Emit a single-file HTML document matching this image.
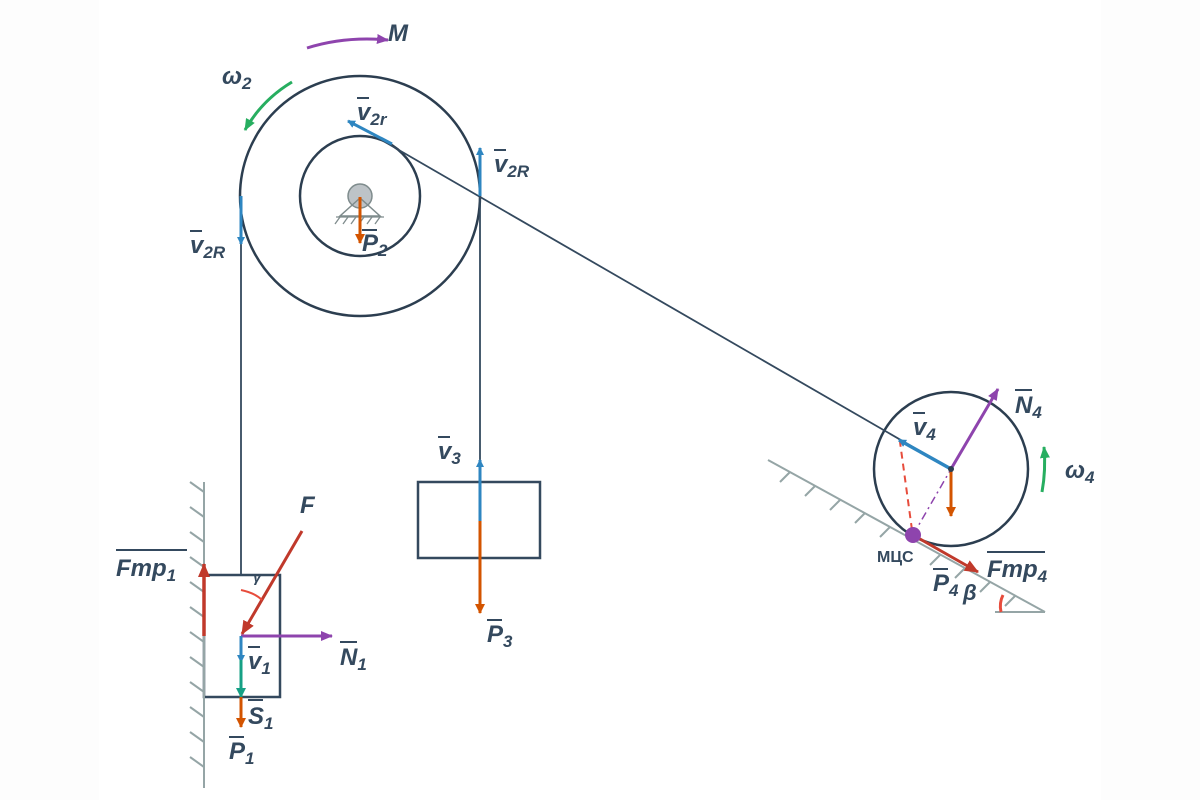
<!DOCTYPE html>
<html><head><meta charset="utf-8"><style>
html,body{margin:0;padding:0;background:#fff;}
svg{display:block}
text{font-family:"Liberation Sans",sans-serif;font-weight:bold;font-style:italic;fill:#34495e;}
</style></head><body>
<svg width="1200" height="800" viewBox="0 0 1200 800">
<defs>
<marker id="ab" markerWidth="8" markerHeight="8" refX="7" refY="4" orient="auto" markerUnits="userSpaceOnUse"><path d="M0,0 L8,4 L0,8 z" fill="#2e86c1"/></marker>
<marker id="ao" markerWidth="10" markerHeight="10" refX="9" refY="5" orient="auto" markerUnits="userSpaceOnUse"><path d="M0,0 L10,5 L0,10 z" fill="#d35400"/></marker>
<marker id="ar" markerWidth="14" markerHeight="12" refX="13" refY="6" orient="auto" markerUnits="userSpaceOnUse"><path d="M0,0 L14,6 L0,12 z" fill="#c0392b"/></marker>
<marker id="ap" markerWidth="12" markerHeight="10" refX="11" refY="5" orient="auto" markerUnits="userSpaceOnUse"><path d="M0,0 L12,5 L0,10 z" fill="#8e44ad"/></marker>
<marker id="ag" markerWidth="12" markerHeight="10" refX="11" refY="5" orient="auto" markerUnits="userSpaceOnUse"><path d="M0,0 L12,5 L0,10 z" fill="#27ae60"/></marker>
<marker id="at" markerWidth="10" markerHeight="10" refX="9" refY="5" orient="auto" markerUnits="userSpaceOnUse"><path d="M0,0 L10,5 L0,10 z" fill="#16a085"/></marker>
</defs>
<rect x="0" y="0" width="99" height="800" fill="#fdfdfd"/>
<rect x="1101" y="0" width="99" height="800" fill="#fdfdfd"/>
<g stroke="#2c3e50" fill="none" stroke-width="2.5">
<circle cx="360" cy="196" r="120"/>
<circle cx="360" cy="196" r="60"/>
<circle cx="951" cy="469" r="77"/>
</g>
<g stroke="#34495e" stroke-width="1.8">
<line x1="241" y1="196" x2="241" y2="575"/>
<line x1="480" y1="196" x2="480" y2="482"/>
<line x1="385" y1="142" x2="951" y2="469"/>
</g>
<rect x="204" y="575" width="76" height="122" fill="none" stroke="#34495e" stroke-width="2.5"/>
<rect x="418" y="482" width="122" height="76" fill="none" stroke="#34495e" stroke-width="2.5"/>
<circle cx="360" cy="196" r="12" fill="#bdc3c7" stroke="#7f8c8d" stroke-width="1.5"/>
<path d="M360,198 L340,216 L380,216 Z" fill="none" stroke="#7f8c8d" stroke-width="1.5"/>
<g stroke="#7f8c8d" stroke-width="1.3">
<line x1="336" y1="217" x2="384" y2="217"/>
<line x1="340" y1="217" x2="335" y2="224"/><line x1="348" y1="217" x2="343" y2="224"/><line x1="356" y1="217" x2="351" y2="224"/><line x1="364" y1="217" x2="359" y2="224"/><line x1="372" y1="217" x2="367" y2="224"/><line x1="380" y1="217" x2="375" y2="224"/>
</g>
<g stroke="#95a5a6" stroke-width="2">
<line x1="204" y1="482" x2="204" y2="788"/>
<line x1="204" y1="492" x2="190" y2="482"/><line x1="204" y1="517" x2="190" y2="507"/><line x1="204" y1="542" x2="190" y2="532"/><line x1="204" y1="567" x2="190" y2="557"/><line x1="204" y1="592" x2="190" y2="582"/><line x1="204" y1="617" x2="190" y2="607"/><line x1="204" y1="642" x2="190" y2="632"/><line x1="204" y1="667" x2="190" y2="657"/><line x1="204" y1="692" x2="190" y2="682"/><line x1="204" y1="717" x2="190" y2="707"/><line x1="204" y1="742" x2="190" y2="732"/><line x1="204" y1="767" x2="190" y2="757"/>
</g>
<g stroke="#95a5a6" stroke-width="2">
<line x1="768" y1="460" x2="1045" y2="612"/>
<line x1="995" y1="612" x2="1045" y2="612"/>
<line x1="790" y1="472" x2="780" y2="482"/><line x1="815" y1="486" x2="805" y2="496"/><line x1="840" y1="500" x2="830" y2="510"/><line x1="865" y1="513" x2="855" y2="523"/><line x1="890" y1="527" x2="880" y2="537"/><line x1="940" y1="555" x2="930" y2="565"/><line x1="965" y1="568" x2="955" y2="578"/><line x1="990" y1="582" x2="980" y2="592"/><line x1="1015" y1="596" x2="1005" y2="606"/>
</g>
<path d="M1003,595 Q999,603 1001,612" stroke="#e74c3c" stroke-width="3" fill="none"/>
<path d="M307,48 Q345,36 388,40" stroke="#8e44ad" stroke-width="3" fill="none" marker-end="url(#ap)"/>
<path d="M292,82 Q262,100 245,130" stroke="#27ae60" stroke-width="3" fill="none" marker-end="url(#ag)"/>
<line x1="392" y1="144" x2="348" y2="121" stroke="#2e86c1" stroke-width="3" marker-end="url(#ab)"/>
<line x1="480" y1="196" x2="480" y2="148" stroke="#2e86c1" stroke-width="3" marker-end="url(#ab)"/>
<line x1="241" y1="196" x2="241" y2="244" stroke="#2e86c1" stroke-width="3" marker-end="url(#ab)"/>
<line x1="360" y1="197" x2="360" y2="243" stroke="#d35400" stroke-width="3" marker-end="url(#ao)"/>
<line x1="480" y1="521" x2="480" y2="460" stroke="#2e86c1" stroke-width="3" marker-end="url(#ab)"/>
<line x1="480" y1="521" x2="480" y2="613" stroke="#d35400" stroke-width="3" marker-end="url(#ao)"/>
<line x1="204" y1="636" x2="204" y2="564" stroke="#c0392b" stroke-width="3.5" marker-end="url(#ar)"/>
<line x1="302" y1="531" x2="242" y2="634" stroke="#c0392b" stroke-width="3" marker-end="url(#ar)"/>
<path d="M241,590 Q255,593 262,600" stroke="#e74c3c" stroke-width="2" fill="none"/>
<line x1="241" y1="636" x2="332" y2="636" stroke="#8e44ad" stroke-width="3" marker-end="url(#ap)"/>
<line x1="241" y1="636" x2="241" y2="662" stroke="#2e86c1" stroke-width="3" marker-end="url(#ab)"/>
<line x1="241" y1="660" x2="241" y2="697" stroke="#16a085" stroke-width="3" marker-end="url(#at)"/>
<line x1="241" y1="697" x2="241" y2="727" stroke="#d35400" stroke-width="3" marker-end="url(#ao)"/>
<line x1="912" y1="530" x2="900" y2="442" stroke="#e74c3c" stroke-width="2" stroke-dasharray="7,5"/>
<line x1="913" y1="535" x2="951" y2="469" stroke="#8e44ad" stroke-width="1.5" stroke-dasharray="8,4,2,4"/>
<line x1="951" y1="469" x2="899" y2="440" stroke="#2e86c1" stroke-width="3.5" marker-end="url(#ab)"/>
<line x1="951" y1="469" x2="998" y2="389" stroke="#8e44ad" stroke-width="3" marker-end="url(#ap)"/>
<line x1="951" y1="470" x2="951" y2="516" stroke="#d35400" stroke-width="3" marker-end="url(#ao)"/>
<circle cx="951" cy="469" r="3" fill="#2c3e50"/>
<line x1="913" y1="535" x2="978" y2="572" stroke="#c0392b" stroke-width="3" marker-end="url(#ar)"/>
<circle cx="913" cy="535" r="8" fill="#8e44ad"/>
<path d="M1042,492 Q1046,470 1044,447" stroke="#27ae60" stroke-width="3" fill="none" marker-end="url(#ag)"/>
<g font-size="24">
<text x="388" y="41">M</text>
<text x="222" y="84">ω<tspan font-size="17" dy="5">2</tspan></text>
<text x="357" y="120">v<tspan font-size="17" dy="5">2r</tspan></text>
<text x="494" y="172">v<tspan font-size="17" dy="5">2R</tspan></text>
<text x="190" y="253">v<tspan font-size="17" dy="5">2R</tspan></text>
<text x="362" y="251">P<tspan font-size="17" dy="5">2</tspan></text>
<text x="438" y="459">v<tspan font-size="17" dy="5">3</tspan></text>
<text x="487" y="642">P<tspan font-size="17" dy="5">3</tspan></text>
<text x="116" y="576">Fmp<tspan font-size="17" dy="5">1</tspan></text>
<text x="300" y="513" font-weight="normal" fill="#34495e">F</text>
<text x="340" y="665">N<tspan font-size="17" dy="5">1</tspan></text>
<text x="248" y="669">v<tspan font-size="17" dy="5">1</tspan></text>
<text x="248" y="724">S<tspan font-size="17" dy="5">1</tspan></text>
<text x="229" y="759">P<tspan font-size="17" dy="5">1</tspan></text>
<text x="913" y="435">v<tspan font-size="17" dy="5">4</tspan></text>
<text x="1015" y="413">N<tspan font-size="17" dy="5">4</tspan></text>
<text x="1065" y="478">ω<tspan font-size="17" dy="5">4</tspan></text>
<text x="987" y="577">Fmp<tspan font-size="17" dy="5">4</tspan></text>
<text x="933" y="591">P<tspan font-size="17" dy="5">4</tspan></text>
</g>
<text x="253" y="582" font-size="15" font-weight="normal" font-family="Liberation Serif">γ</text>
<text x="963" y="600" font-size="22" font-weight="normal" font-family="Liberation Serif">β</text>
<text x="877" y="562" font-size="16" style="font-style:normal">МЦС</text>
<g stroke="#34495e" stroke-width="2">
<line x1="357" y1="98" x2="369" y2="98"/><line x1="494" y1="150" x2="506" y2="150"/><line x1="190" y1="231" x2="202" y2="231"/>
<line x1="362" y1="230" x2="377" y2="230"/><line x1="438" y1="437" x2="450" y2="437"/><line x1="487" y1="620" x2="502" y2="620"/>
<line x1="116" y1="550" x2="187" y2="550"/><line x1="340" y1="642" x2="357" y2="642"/><line x1="248" y1="647" x2="260" y2="647"/>
<line x1="248" y1="700" x2="263" y2="700"/><line x1="229" y1="737" x2="244" y2="737"/><line x1="913" y1="413" x2="925" y2="413"/>
<line x1="1015" y1="390" x2="1032" y2="390"/><line x1="987" y1="552" x2="1045" y2="552"/><line x1="933" y1="569" x2="948" y2="569"/>
</g>
</svg>
</body></html>
